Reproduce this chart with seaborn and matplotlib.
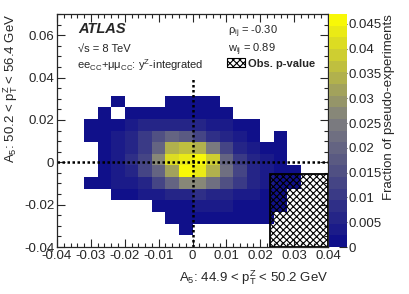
import numpy as np
import pandas as pd
import matplotlib
matplotlib.use("Agg")
import matplotlib.pyplot as plt
from matplotlib.colors import LinearSegmentedColormap, ListedColormap
from matplotlib.patches import Rectangle, Patch
from matplotlib.ticker import MultipleLocator, FuncFormatter
import seaborn as sns

# ---------------------------------------------------------------
# data: 20 x 20 toy histogram of (A5 in bin i, A5 in bin j)
# ---------------------------------------------------------------
x_edges = np.linspace(-0.04, 0.04, 21)
y_edges = np.linspace(-0.04, 0.07, 21)
x_centers = 0.5 * (x_edges[:-1] + x_edges[1:])
y_centers = 0.5 * (y_edges[:-1] + y_edges[1:])

# fraction of pseudo-experiments, in units of 1e-3, rows bottom -> top
fraction_e3 = [
    [0, 0, 0, 0, 0, 0, 0, 0, 0, 0, 0, 0, 0, 0, 0, 0, 0, 0, 0, 0],
    [0, 0, 0, 0, 0, 0, 0, 0, 0, 1, 0, 0, 0, 0, 0, 0, 0, 0, 0, 0],
    [0, 0, 0, 0, 0, 0, 0, 0, 1, 1, 2, 2, 2, 1, 1, 1, 0, 0, 0, 0],
    [0, 0, 0, 0, 0, 0, 0, 1, 2, 2, 3, 3, 3, 2, 2, 1, 1, 0, 0, 0],
    [0, 0, 0, 0, 1, 2, 3, 4, 5, 7, 8, 6, 5, 4, 3, 2, 1, 0, 0, 0],
    [0, 0, 1, 2, 3, 4, 7, 13, 20, 26, 27, 22, 15, 11, 6, 4, 2, 1, 0, 0],
    [0, 0, 0, 2, 3, 6, 12, 19, 32, 45, 44, 33, 23, 13, 7, 4, 2, 1, 0, 0],
    [0, 0, 0, 2, 4, 8, 14, 27, 41, 43, 47, 38, 21, 11, 6, 3, 2, 0, 0, 0],
    [0, 0, 0, 2, 4, 6, 11, 20, 34, 37, 33, 25, 14, 7, 4, 2, 1, 0, 0, 0],
    [0, 0, 1, 1, 3, 6, 11, 15, 19, 17, 13, 9, 6, 4, 2, 0, 1, 0, 0, 0],
    [0, 0, 1, 1, 2, 3, 5, 7, 7, 6, 5, 4, 3, 2, 1, 0, 0, 0, 0, 0],
    [0, 0, 0, 1, 0, 1, 1, 2, 2, 2, 2, 2, 1, 0, 0, 0, 0, 0, 0, 0],
    [0, 0, 0, 0, 1, 0, 0, 0, 1, 1, 1, 1, 0, 0, 0, 0, 0, 0, 0, 0],
    [0, 0, 0, 0, 0, 0, 0, 0, 0, 0, 0, 0, 0, 0, 0, 0, 0, 0, 0, 0],
    [0, 0, 0, 0, 0, 0, 0, 0, 0, 0, 0, 0, 0, 0, 0, 0, 0, 0, 0, 0],
    [0, 0, 0, 0, 0, 0, 0, 0, 0, 0, 0, 0, 0, 0, 0, 0, 0, 0, 0, 0],
    [0, 0, 0, 0, 0, 0, 0, 0, 0, 0, 0, 0, 0, 0, 0, 0, 0, 0, 0, 0],
    [0, 0, 0, 0, 0, 0, 0, 0, 0, 0, 0, 0, 0, 0, 0, 0, 0, 0, 0, 0],
    [0, 0, 0, 0, 0, 0, 0, 0, 0, 0, 0, 0, 0, 0, 0, 0, 0, 0, 0, 0],
    [0, 0, 0, 0, 0, 0, 0, 0, 0, 0, 0, 0, 0, 0, 0, 0, 0, 0, 0, 0],
]

# observed point -> p-value region, correlation info
obs_x, obs_y = 0.023, -0.0055
rho_ij = -0.30
w_ij = 0.89
z_max = 0.047
n_levels = 20

xx, yy = np.meshgrid(x_centers, y_centers)
df = pd.DataFrame({"x": xx.ravel(), "y": yy.ravel(),
                   "frac": np.asarray(fraction_e3, float).ravel() * 1e-3})

# ---------------------------------------------------------------
# style
# ---------------------------------------------------------------
sns.set_style("ticks")
plt.rcParams["font.family"] = ["Liberation Sans", "DejaVu Sans"]
plt.rcParams["mathtext.fontset"] = "custom"
plt.rcParams["mathtext.rm"] = "Liberation Sans"
plt.rcParams["mathtext.it"] = "Liberation Sans:italic"
plt.rcParams["mathtext.bf"] = "Liberation Sans:bold"
plt.rcParams["hatch.linewidth"] = 0.8

base = LinearSegmentedColormap.from_list(
    "navy_gray_yellow", [(0.0, "#0b0b8a"), (0.55, "#7f7f7f"), (1.0, "#ffff00")])
cmap = ListedColormap(base((np.arange(n_levels) + 0.5) / n_levels))

fig = plt.figure(figsize=(4.09, 2.94), dpi=100)
ax = fig.add_axes([57 / 409, 47 / 294, 271 / 409, 233 / 294])
cax = fig.add_axes([329 / 409, 47 / 294, 18 / 409, 233 / 294])

sns.histplot(data=df, x="x", y="y", weights="frac", bins=[x_edges, y_edges],
             cmap=cmap, vmin=0, vmax=z_max, cbar=True, cbar_ax=cax, ax=ax)

# dotted cross through the origin
ax.plot([0, 0], [-0.04, 0.04], color="black", ls=(0, (1, 1)), lw=1.8)
ax.plot([-0.04, 0.04], [0, 0], color="black", ls=(0, (1, 1)), lw=1.8)

# observed p-value region
ax.add_patch(Rectangle((obs_x, -0.04), 0.04 - obs_x, obs_y + 0.04,
                       fill=False, hatch="xxxxx", edgecolor="black", lw=1.3))

ax.set_xlim(-0.04, 0.04)
ax.set_ylim(-0.04, 0.07)
fmt = FuncFormatter(lambda v, p: f"{round(v, 4):g}")
ax.xaxis.set_major_locator(MultipleLocator(0.01))
ax.xaxis.set_minor_locator(MultipleLocator(0.002))
ax.yaxis.set_major_locator(MultipleLocator(0.02))
ax.yaxis.set_minor_locator(MultipleLocator(0.005))
ax.xaxis.set_major_formatter(fmt)
ax.yaxis.set_major_formatter(fmt)
ax.tick_params(which="both", direction="in", top=True, right=True,
               labelsize=9.5, width=0.8, pad=2)
ax.tick_params(which="major", length=5.5)
ax.tick_params(which="minor", length=2.8)
for s in ax.spines.values():
    s.set_linewidth(0.9)
ax.grid(False)

ax.set_xlabel(r"A$_{5}$: 44.9 < p$_{\mathrm{T}}^{\mathrm{Z}}$ < 50.2 GeV",
              fontsize=9.5, loc="right", labelpad=5)
ax.set_ylabel(r"A$_{5}$: 50.2 < p$_{\mathrm{T}}^{\mathrm{Z}}$ < 56.4 GeV",
              fontsize=9.5, loc="top", labelpad=3)

# colour bar
cbar = ax.collections[0].colorbar
cbar.set_ticks(np.arange(0, 0.0451, 0.005))
cbar.ax.yaxis.set_major_formatter(fmt)
cbar.ax.tick_params(direction="in", length=5.5, width=0.8, labelsize=9.5, pad=1)
cbar.outline.set_visible(False)
cbar.set_label("Fraction of pseudo-experiments", fontsize=9.5, loc="top", labelpad=1)

# labels
ax.text(0.077, 0.918, "ATLAS", transform=ax.transAxes, fontsize=10.5,
        fontweight="bold", fontstyle="italic", va="baseline")
ax.text(0.077, 0.837, "√s = 8 TeV", transform=ax.transAxes, fontsize=8, va="baseline")
ax.text(0.074, 0.764, r"ee$_{\mathrm{CC}}$+μμ$_{\mathrm{CC}}$: y$^{\mathrm{Z}}$-integrated",
        transform=ax.transAxes, fontsize=8, va="baseline")
ax.text(0.631, 0.914, rf"ρ$_{{\mathrm{{ij}}}}$ = {rho_ij:.2f}", transform=ax.transAxes,
        fontsize=8, va="baseline")
ax.text(0.631, 0.837, rf"w$_{{\mathrm{{ij}}}}$ = {w_ij:.2f}", transform=ax.transAxes,
        fontsize=8, va="baseline")
ax.legend(handles=[Patch(facecolor="white", edgecolor="black", hatch="xxxxx", lw=0.8)],
          labels=["Obs. p-value"], loc="upper left", bbox_to_anchor=(0.628, 0.81),
          frameon=False, borderpad=0, borderaxespad=0, handlelength=1.6,
          handleheight=0.9, handletextpad=0.3, prop={"size": 8, "weight": "bold"})

fig.savefig("out.png", dpi=100, facecolor="white")
